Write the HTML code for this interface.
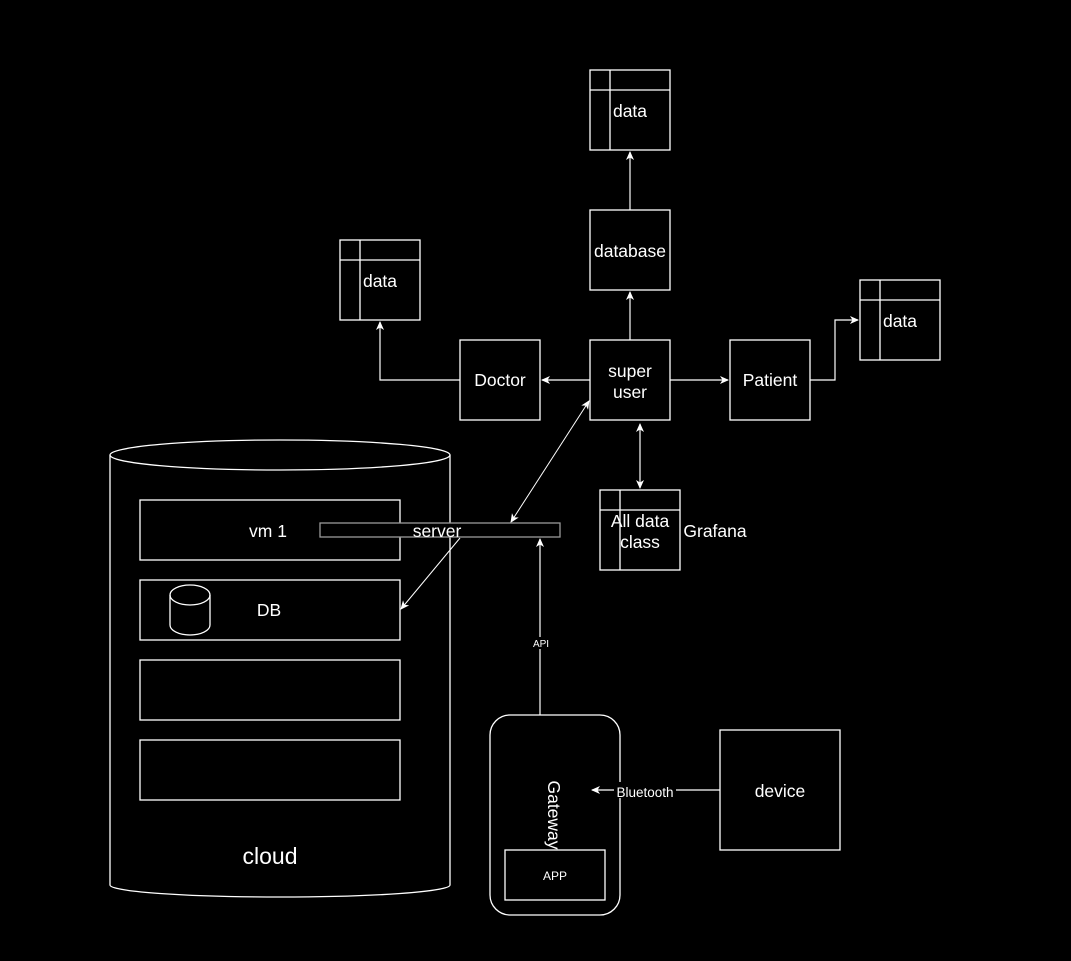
<!DOCTYPE html>
<html><head><meta charset="utf-8"><style>
html,body{margin:0;padding:0;background:#000;}
svg{display:block;}
text{font-family:"Liberation Sans",sans-serif;fill:#fff;}
</style></head><body>
<svg width="1071" height="961" viewBox="0 0 1071 961" xmlns="http://www.w3.org/2000/svg">
<defs>
<marker id="a" markerWidth="10" markerHeight="10" refX="8" refY="5" orient="auto" markerUnits="userSpaceOnUse">
<path d="M0,1 L9,5 L0,9 L2.5,5 Z" fill="#fff"/>
</marker>
<marker id="b" markerWidth="10" markerHeight="10" refX="2" refY="5" orient="auto" markerUnits="userSpaceOnUse">
<path d="M10,1 L1,5 L10,9 L7.5,5 Z" fill="#fff"/>
</marker>
</defs>
<rect x="0" y="0" width="1071" height="961" fill="#000"/>
<g fill="none" stroke="#fff" stroke-width="1.3">
<rect x="590" y="70" width="80" height="80"/><line x1="590" y1="90" x2="670" y2="90"/><line x1="610" y1="70" x2="610" y2="150"/>
<rect x="340" y="240" width="80" height="80"/><line x1="340" y1="260" x2="420" y2="260"/><line x1="360" y1="240" x2="360" y2="320"/>
<rect x="860" y="280" width="80" height="80"/><line x1="860" y1="300" x2="940" y2="300"/><line x1="880" y1="280" x2="880" y2="360"/>
<rect x="600" y="490" width="80" height="80"/><line x1="600" y1="510" x2="680" y2="510"/><line x1="620" y1="490" x2="620" y2="570"/>
<rect x="590" y="210" width="80" height="80"/>
<rect x="590" y="340" width="80" height="80"/>
<rect x="460" y="340" width="80" height="80"/>
<rect x="730" y="340" width="80" height="80"/>
<rect x="720" y="730" width="120" height="120"/>
<rect x="490" y="715" width="130" height="200" rx="20"/>
<rect x="505" y="850" width="100" height="50"/>
<path d="M110,455 A170,15 0 0 1 450,455 L450,885 A170,12 0 0 1 110,885 Z"/>
<path d="M110,455 A170,15 0 0 0 450,455"/>
<rect x="140" y="500" width="260" height="60"/>
<rect x="140" y="580" width="260" height="60"/>
<rect x="140" y="660" width="260" height="60"/>
<rect x="140" y="740" width="260" height="60"/>
<path d="M170,595 A20,10 0 0 1 210,595 L210,625 A20,10 0 0 1 170,625 Z"/>
<path d="M170,595 A20,10 0 0 0 210,595"/>
</g>
<rect x="320" y="523" width="240" height="14" fill="#000" stroke="#999" stroke-width="1.3"/>
<g fill="none" stroke="#fff" stroke-width="1.2">
<line x1="630" y1="340" x2="630" y2="292" marker-end="url(#a)"/>
<line x1="630" y1="210" x2="630" y2="152" marker-end="url(#a)"/>
<line x1="590" y1="380" x2="542" y2="380" marker-end="url(#a)"/>
<polyline points="460,380 380,380 380,322" marker-end="url(#a)"/>
<line x1="670" y1="380" x2="728" y2="380" marker-end="url(#a)"/>
<polyline points="810,380 835,380 835,320 858,320" marker-end="url(#a)"/>
<line x1="640" y1="424" x2="640" y2="488" marker-start="url(#b)" marker-end="url(#a)"/>
<line x1="589" y1="401" x2="511" y2="522" stroke-width="1" marker-start="url(#b)" marker-end="url(#a)"/>
<line x1="460" y1="538" x2="401" y2="609" stroke-width="1" marker-end="url(#a)"/>
<line x1="540" y1="715" x2="540" y2="539" marker-end="url(#a)"/>
<line x1="720" y1="790" x2="592" y2="790" marker-end="url(#a)"/>
</g>
<rect x="531" y="637" width="20" height="12" fill="#000"/>
<rect x="614" y="782" width="62" height="16" fill="#000"/>
<g font-size="17.5" text-anchor="middle">
<text x="630" y="117">data</text>
<text x="380" y="287">data</text>
<text x="900" y="327">data</text>
<text x="630" y="257">database</text>
<text x="630" y="377">super</text>
<text x="630" y="398">user</text>
<text x="500" y="386">Doctor</text>
<text x="770" y="386">Patient</text>
<text x="640" y="527">All data</text>
<text x="640" y="548">class</text>
<text x="715" y="537">Grafana</text>
<text x="780" y="797">device</text>
<text x="268" y="537">vm 1</text>
<text x="269" y="616">DB</text>
<text x="437" y="537">server</text>
<text x="270" y="864" font-size="23">cloud</text>
<text x="0" y="0" transform="translate(548,815) rotate(90)">Gateway</text>
<text x="555" y="880" font-size="12">APP</text>
<text x="541" y="647" font-size="10">API</text>
<text x="645" y="797" font-size="13.5">Bluetooth</text>
</g>
</svg>
</body></html>
